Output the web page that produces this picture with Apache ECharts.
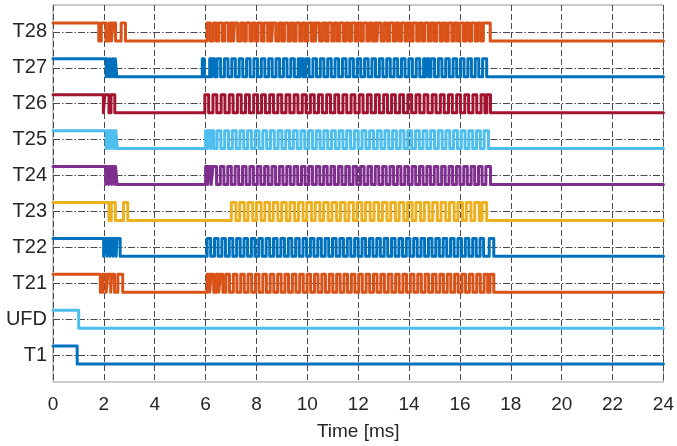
<!DOCTYPE html>
<html>
<head>
<meta charset="utf-8">
<script src="https://cdn.jsdelivr.net/npm/echarts@6/dist/echarts.min.js"></script>
<style>
html,body{margin:0;padding:0;background:#fff;}
#chart{width:677px;height:446px;}
</style>
</head>
<body>
<div id="chart"></div>
<script>
// Signal names (bottom to top) and their row levels
const signalNames = ['T1', 'UFD', 'T21', 'T22', 'T23', 'T24', 'T25', 'T26', 'T27', 'T28'];
const signalLevels = [1, 2, 3, 4, 5, 6, 7, 8, 9, 10];
const xTicks = [0, 2, 4, 6, 8, 10, 12, 14, 16, 18, 20, 22, 24];

// Toggle times in ms; each signal starts high at t = 0, every entry flips the state.
const T1 = [0.95];
const UFD = [1.01];
const T21 = [1.86, 1.96,2.09, 2.16,2.27, 2.31,2.42, 2.55,2.74,
  6.06,6.16, 6.22,6.32, 6.42,6.52, 6.58,6.68, 6.80,6.94, 7.09,7.23, 7.38,7.52, 7.67,7.81, 7.96,8.10, 8.25,8.39, 8.54,8.68, 8.83,8.97, 9.12,9.26, 9.41,9.55, 9.70,9.84, 9.99,10.13, 10.28,10.42, 10.57,10.71, 10.86,11.00, 11.15,11.29, 11.44,11.58, 11.73,11.87, 12.02,12.16, 12.31,12.45, 12.60,12.74, 12.89,13.03, 13.18,13.32, 13.47,13.61, 13.76,13.90, 14.05,14.19, 14.34,14.48, 14.63,14.77, 14.92,15.06, 15.21,15.35, 15.50,15.64, 15.79,15.93, 16.08,16.22, 16.37,16.51, 16.66,16.80, 16.95,17.09, 17.18,17.33];
const T22 = [1.99, 2.04,2.12, 2.16,2.24, 2.28,2.36, 2.40,2.48, 2.52,2.64,
  6.06,6.20, 6.35,6.49, 6.64,6.78, 6.93,7.07, 7.22,7.36, 7.51,7.65, 7.80,7.94, 8.09,8.23, 8.38,8.52, 8.67,8.81, 8.96,9.10, 9.25,9.39, 9.54,9.68, 9.83,9.97, 10.12,10.26, 10.41,10.55, 10.70,10.84, 10.99,11.13, 11.28,11.42, 11.57,11.71, 11.86,12.00, 12.15,12.29, 12.44,12.58, 12.73,12.87, 13.02,13.16, 13.31,13.45, 13.60,13.74, 13.89,14.03, 14.18,14.32, 14.47,14.61, 14.76,14.90, 15.05,15.19, 15.34,15.48, 15.63,15.77, 15.92,16.06, 16.21,16.35, 16.50,16.64, 16.79,16.93, 17.15,17.33];
const T23 = [2.20, 2.29,2.45, 2.77,2.94,
  7.01,7.19, 7.34,7.52, 7.67,7.85, 8.00,8.18, 8.33,8.51, 8.66,8.84, 8.99,9.17, 9.32,9.50, 9.65,9.83, 9.98,10.16, 10.31,10.49, 10.64,10.82, 10.97,11.15, 11.30,11.48, 11.63,11.81, 11.96,12.14, 12.29,12.47, 12.62,12.80, 12.95,13.13, 13.28,13.46, 13.61,13.79, 13.94,14.12, 14.27,14.45, 14.60,14.78, 14.93,15.11, 15.26,15.44, 15.59,15.77, 15.92,16.10, 16.25,16.43, 16.58,16.76, 16.87,17.05];
const T24 = [2.07, 2.11,2.19, 2.23,2.31, 2.35,2.43, 2.46,2.52,
  6.00,6.09, 6.13,6.22, 6.29,6.43, 6.58,6.72, 6.87,7.01, 7.16,7.30, 7.45,7.59, 7.74,7.88, 8.03,8.17, 8.32,8.46, 8.61,8.75, 8.90,9.04, 9.19,9.33, 9.48,9.62, 9.77,9.91, 10.06,10.20, 10.35,10.49, 10.64,10.78, 10.93,11.07, 11.22,11.36, 11.51,11.65, 11.80,11.94, 12.09,12.23, 12.38,12.52, 12.67,12.81, 12.96,13.10, 13.25,13.39, 13.54,13.68, 13.83,13.97, 14.12,14.26, 14.41,14.55, 14.70,14.84, 14.99,15.13, 15.28,15.42, 15.57,15.71, 15.86,16.00, 16.15,16.29, 16.44,16.58, 16.73,16.87, 17.02,17.20];
const T25 = [2.09, 2.12,2.20, 2.24,2.32, 2.36,2.44, 2.47,2.53,
  6.00,6.08, 6.12,6.20, 6.24,6.32, 6.45,6.60, 6.75,6.90, 7.05,7.20, 7.35,7.50, 7.65,7.80, 7.95,8.10, 8.25,8.40, 8.55,8.70, 8.85,9.00, 9.15,9.30, 9.45,9.60, 9.75,9.90, 10.05,10.20, 10.35,10.50, 10.65,10.80, 10.95,11.10, 11.25,11.40, 11.55,11.70, 11.85,12.00, 12.15,12.30, 12.45,12.60, 12.75,12.90, 13.05,13.20, 13.35,13.50, 13.65,13.80, 13.95,14.10, 14.25,14.40, 14.55,14.70, 14.85,15.00, 15.15,15.30, 15.45,15.60, 15.75,15.90, 16.05,16.20, 16.35,16.50, 16.65,16.80, 16.95,17.12];
const T26 = [1.98, 2.04,2.20, 2.28,2.43,
  5.97,6.12, 6.29,6.44, 6.61,6.76, 6.93,7.08, 7.25,7.40, 7.57,7.72, 7.89,8.04, 8.20,8.35, 8.52,8.67, 8.84,8.99, 9.16,9.31, 9.48,9.63, 9.80,9.95, 10.12,10.27, 10.44,10.59, 10.76,10.91, 11.08,11.23, 11.40,11.55, 11.72,11.87, 12.04,12.19, 12.36,12.51, 12.68,12.83, 13.00,13.15, 13.31,13.46, 13.63,13.78, 13.95,14.10, 14.27,14.42, 14.59,14.74, 14.91,15.06, 15.23,15.38, 15.55,15.70, 15.87,16.02, 16.19,16.34, 16.51,16.66, 16.83,16.98, 17.06,17.20];
const T27 = [2.09, 2.13,2.20, 2.24,2.31, 2.35,2.42, 2.45,2.51,
  5.87,5.95, 6.16,6.24, 6.28,6.36, 6.45,6.59, 6.74,6.88, 7.03,7.17, 7.32,7.46, 7.61,7.75, 7.90,8.04, 8.19,8.33, 8.48,8.62, 8.77,8.91, 9.06,9.20, 9.35,9.49, 9.64,9.72, 9.76,9.84, 9.93,10.07, 10.22,10.36, 10.51,10.65, 10.80,10.94, 11.09,11.23, 11.38,11.52, 11.67,11.81, 11.96,12.10, 12.25,12.39, 12.54,12.68, 12.83,12.97, 13.12,13.26, 13.41,13.55, 13.70,13.84, 13.99,14.13, 14.28,14.42, 14.57,14.65, 14.69,14.77, 14.86,15.00, 15.15,15.29, 15.44,15.58, 15.73,15.87, 16.02,16.16, 16.31,16.45, 16.60,16.74, 16.89,17.05];
const T28 = [1.80, 1.90,2.08, 2.20,2.30, 2.36,2.46, 2.68,2.85,
  6.06,6.18, 6.30,6.42, 6.52,6.66, 6.76,6.90, 7.00,7.10, 7.14,7.26, 7.38,7.50, 7.60,7.74, 7.84,7.96, 8.06,8.20, 8.30,8.44, 8.52,8.60, 8.64,8.76, 8.88,9.00, 9.10,9.24, 9.34,9.46, 9.56,9.70, 9.80,9.92, 10.02,10.16, 10.24,10.32, 10.36,10.48, 10.60,10.72, 10.82,10.96, 11.06,11.18, 11.28,11.42, 11.52,11.64, 11.74,11.88, 11.98,12.10, 12.20,12.34, 12.44,12.56, 12.66,12.74, 12.78,12.90, 13.02,13.14, 13.24,13.38, 13.48,13.60, 13.70,13.84, 13.94,14.06, 14.16,14.30, 14.40,14.52, 14.62,14.76, 14.86,14.98, 15.08,15.22, 15.32,15.44, 15.54,15.68, 15.78,15.90, 16.00,16.14, 16.24,16.36, 16.46,16.60, 16.70,16.82, 16.92,17.19];

const signalEdges = [T1, UFD, T21, T22, T23, T24, T25, T26, T27, T28];
const signalColors = ['#0072BD', '#4DBEEE', '#D95319', '#0072BD', '#EDB120', '#7E2F8E', '#4DBEEE', '#A2142F', '#0072BD', '#D95319'];
const swing = 0.25;
const tEnd = 24;

function buildTrace(edges, level) {
  const hi = level + swing, lo = level - swing;
  let state = 1;
  const pts = [[0, hi]];
  edges.forEach(t => {
    const cur = state ? hi : lo;
    state = 1 - state;
    const nxt = state ? hi : lo;
    pts.push([t, cur], [t, nxt]);
  });
  pts.push([tEnd, state ? hi : lo]);
  return pts;
}

const FONT = 'Liberation Sans';
const series = signalNames.map((name, i) => ({
  name: name,
  type: 'line',
  data: buildTrace(signalEdges[i], signalLevels[i]),
  showSymbol: false,
  symbol: 'none',
  lineStyle: { color: signalColors[i], width: 3, join: 'round', cap: 'round' },
  z: 3,
  animation: false,
  silent: true
}));

const chart = echarts.init(document.getElementById('chart'), null, { renderer: 'canvas' });
chart.setOption({
  animation: false,
  backgroundColor: '#fff',
  grid: { left: 53, right: 9, top: 5, bottom: 64, show: true, borderColor: '#999', borderWidth: 1, backgroundColor: 'transparent' },
  xAxis: {
    type: 'value', min: 0, max: 24, interval: 2,
    name: 'Time [ms]', nameLocation: 'middle', nameGap: 40,
    nameTextStyle: { fontFamily: FONT, fontSize: 19, color: '#262626' },
    axisLine: { show: false },
    axisTick: { show: false },
    axisLabel: { fontFamily: FONT, fontSize: 19, color: '#262626', margin: 13,
      customValues: xTicks },
    splitLine: { show: true, lineStyle: { color: '#4a4a4a', width: 1, type: [6, 3] } }
  },
  yAxis: {
    type: 'value', min: 0.25, max: 10.75,
    axisLine: { show: false },
    axisTick: { show: false, customValues: signalLevels },
    axisLabel: { fontFamily: FONT, fontSize: 20, color: '#262626', margin: 6,
      customValues: signalLevels,
      formatter: v => { const k = signalLevels.indexOf(Math.round(v)); return k >= 0 ? signalNames[k] : ''; } },
    splitLine: { show: true, lineStyle: { color: '#4a4a4a', width: 1, type: [7, 2, 1.5, 2] } }
  },
  series: series
});
</script>
</body>
</html>
